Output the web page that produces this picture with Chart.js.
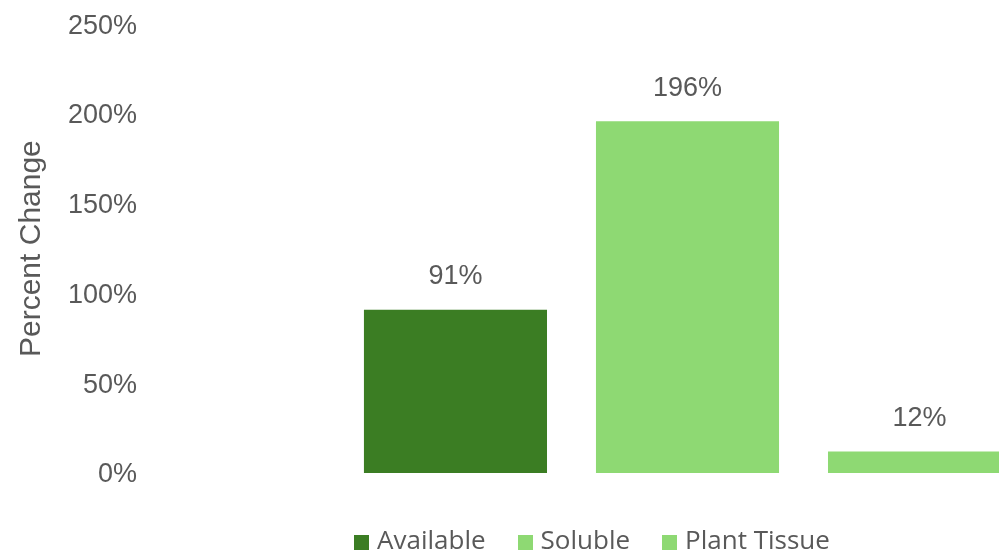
<!DOCTYPE html>
<html>
<head>
<meta charset="utf-8">
<script src="https://cdn.jsdelivr.net/npm/chart.js@4.4.1/dist/chart.umd.min.js"></script>
<style>
  html, body { margin: 0; padding: 0; background: #ffffff; overflow: hidden; }
  #wrap { width: 1189px; height: 554px; }
</style>
</head>
<body>
<div id="wrap"><canvas id="chart" width="1189" height="554"></canvas></div>
<script>
// Percent change by nutrient fraction
const categories = [''];
const seriesNames = ['Available', 'Soluble', 'Plant Tissue'];
const seriesValues = [91, 196, 12];
const seriesColors = ['#3B7D23', '#8ED973', '#8ED973'];
const yTicks = [0, 50, 100, 150, 200, 250];

const textColor = '#595959';
const numFont = { family: '"Liberation Sans", Arial, sans-serif', size: 27 };

// Small square swatches for the legend
function swatch(color) {
  const c = document.createElement('canvas');
  c.width = 15;
  c.height = 15;
  const g = c.getContext('2d');
  g.fillStyle = color;
  g.fillRect(0, 0, 15, 15);
  return c;
}
const swatches = seriesColors.map(swatch);

// Writes each bar's value above it
const valueLabels = {
  id: 'valueLabels',
  afterDatasetsDraw(chart) {
    const ctx = chart.ctx;
    ctx.save();
    ctx.font = `${numFont.size}px ${numFont.family}`;
    ctx.fillStyle = textColor;
    ctx.textAlign = 'center';
    ctx.textBaseline = 'middle';
    chart.data.datasets.forEach((ds, i) => {
      const meta = chart.getDatasetMeta(i);
      meta.data.forEach((bar, j) => {
        ctx.fillText(ds.data[j] + '%', bar.x, bar.y - 33);
      });
    });
    ctx.restore();
  }
};

new Chart(document.getElementById('chart'), {
  type: 'bar',
  data: {
    labels: categories,
    datasets: seriesNames.map((name, i) => ({
      label: name,
      data: [seriesValues[i]],
      backgroundColor: seriesColors[i],
      borderWidth: 0,
      categoryPercentage: 0.694,
      barPercentage: 0.789
    }))
  },
  options: {
    responsive: false,
    devicePixelRatio: 1,
    animation: false,
    layout: { padding: { top: 0, left: 0, right: 0, bottom: 0 } },
    plugins: {
      tooltip: { enabled: false },
      legend: {
        position: 'bottom',
        maxHeight: 62,
        labels: {
          usePointStyle: true,
          boxWidth: 5,
          boxHeight: 15,
          padding: 37,
          color: textColor,
          font: { family: '"Open Sans", sans-serif', size: 26 },
          generateLabels(chart) {
            const items = Chart.defaults.plugins.legend.labels.generateLabels(chart);
            items.forEach((it, i) => { it.pointStyle = swatches[i]; });
            return items;
          }
        }
      }
    },
    scales: {
      x: {
        display: true,
        grid: { display: false, drawTicks: false },
        border: { display: false },
        ticks: { display: false },
        afterFit(scale) { scale.height = 19; }
      },
      y: {
        min: 0,
        max: 250,
        afterBuildTicks(scale) { scale.ticks = yTicks.map(v => ({ value: v })); },
        grid: { display: false, drawTicks: true, tickLength: 41 },
        border: { display: false },
        ticks: {
          padding: 8,
          labelOffset: 2,
          color: textColor,
          font: numFont,
          callback: v => v + '%'
        },
        title: {
          display: true,
          text: 'Percent Change',
          color: textColor,
          font: { family: '"Liberation Sans", Arial, sans-serif', size: 30 },
          padding: { top: 14, bottom: 0 }
        },
        afterFit(scale) { scale.width = 186; }
      }
    }
  },
  plugins: [valueLabels]
});
</script>
</body>
</html>
